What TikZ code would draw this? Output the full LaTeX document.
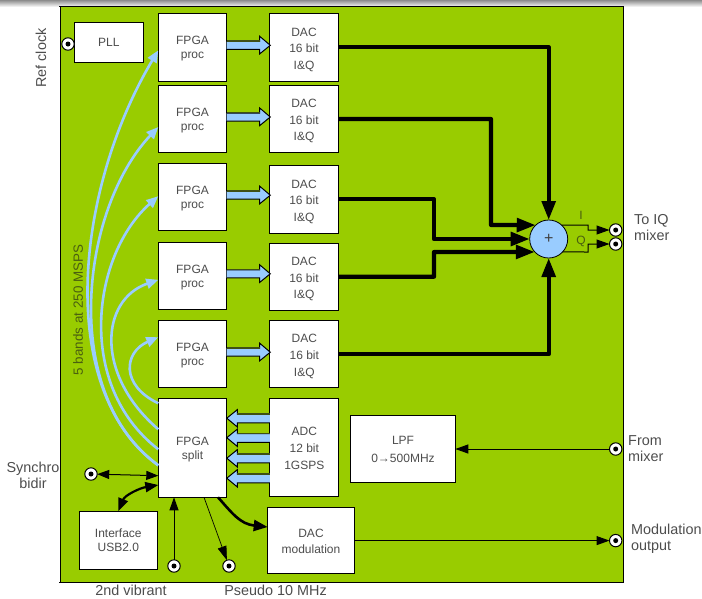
\documentclass[tikz,border=0pt]{standalone}
\usepackage{fontspec}
\setmainfont{Liberation Sans}
\usetikzlibrary{arrows.meta}
\definecolor{pcb}{HTML}{99CC00}
\definecolor{sky}{HTML}{99CCFF}
\definecolor{ink}{HTML}{4D4D4D}
\definecolor{inkg}{HTML}{4A5F10}
\definecolor{barshade}{HTML}{3F5015}
\tikzset{
  box/.style={draw=black,line width=1pt,fill=white,inner sep=0pt,outer sep=0pt,align=center,text=ink,font=\fontsize{12}{14}\selectfont},
  fpga/.style={box,minimum width=68.4pt,minimum height=67.4pt},
  dac/.style={box,minimum width=69.4pt,minimum height=67.4pt,font=\fontsize{12}{16.6}\selectfont},
  port/.style={circle,draw=black,line width=1pt,fill=white,minimum size=12.4pt,inner sep=0pt,outer sep=0pt,
    path picture={\fill[black] (path picture bounding box.center) circle (2.5pt);}},
  lab/.style={text=ink,font=\fontsize{14.4}{16}\selectfont,inner sep=0pt,align=left},
  bus/.style={draw=black,line width=4.2pt,line join=round,-{Triangle[length=19pt,width=13.5pt]}},
  thin/.style={draw=black,line width=1pt},
  thinarrow/.style={thin,-{Triangle[length=13pt,width=9pt]}},
  feed/.style={draw=sky,line width=2.6pt,-{Triangle[length=12pt,width=10pt]}},
  bar/.style={draw=black,line width=1pt,fill=sky,line join=miter},
  barshadow/.style={draw=barshade,line width=1.4pt},
}
\newcommand{\tx}[2][-1.5pt]{\raisebox{#1}[\height][\depth]{\begin{tabular}{@{}c@{}}#2\end{tabular}}}
\newcommand{\barright}[1]{\draw[bar] ([yshift=6pt]#1) -- ++(33,0) -- ++(0,-5) -- ++(10.6,9) -- ++(-10.6,8.6) -- ++(0,-4.6) -- ++(-33,0);
  \draw[barshadow] ([yshift=6.4pt]#1) -- ++(33,0);}
\newcommand{\barleft}[2]{\draw[bar] ([yshift=#2]#1) ++(0,-4) -- ++(-32.6,0) -- ++(0,-4.6) -- ++(-10.6,8.6) -- ++(10.6,8.8) -- ++(0,-4.2) -- ++(32.6,0);
  \draw[barshadow] ([yshift=#2]#1) ++(0,-4.4) -- ++(-32.6,0);}
\begin{document}
\begin{tikzpicture}[x=1pt,y=-1pt]
\useasboundingbox (0,0) rectangle (702,598);
\shade[top color=black!45,bottom color=white] (0,0) rectangle (702,7);
\fill[pcb] (60.5,6.5) rectangle (623.5,582);
\draw[black,line width=1pt] (59,6.5) -- (623.5,6.5) -- (623.5,582) -- (59,582);
\draw[black,line width=1pt] (60.5,6.5) -- (60.5,582);

% blocks
\node[box,minimum width=69pt,minimum height=40pt] (pll) at (108.8,42.3) {\tx[-1pt]{PLL}};
\node[fpga] (f1) at (192.5,47.3) {\tx{FPGA\\proc}};
\node[fpga] (f2) at (192.5,119) {\tx{FPGA\\proc}};
\node[fpga] (f3) at (192.5,197.2) {\tx{FPGA\\proc}};
\node[fpga] (f4) at (192.5,275.8) {\tx{FPGA\\proc}};
\node[fpga] (f5) at (192.5,354.2) {\tx{FPGA\\proc}};
\node[box,minimum width=68.4pt,minimum height=99pt] (fs) at (192.5,447.8) {\tx{FPGA\\split}};
\node[dac] (d1) at (304,47.3) {\tx[-2pt]{DAC\\16 bit\\I\&Q}};
\node[dac] (d2) at (304,119) {\tx[-2pt]{DAC\\16 bit\\I\&Q}};
\node[dac,minimum height=68pt] (d3) at (304,199.3) {\tx[-2pt]{DAC\\16 bit\\I\&Q}};
\node[dac,minimum height=66.7pt] (d4) at (304,276.7) {\tx[-2pt]{DAC\\16 bit\\I\&Q}};
\node[dac,minimum width=68.7pt] (d5) at (304.3,354.2) {\tx[-2pt]{DAC\\16 bit\\I\&Q}};
\node[dac,minimum width=68.7pt,minimum height=97.7pt] (adc) at (304.3,447.2) {\tx[-2pt]{ADC\\12 bit\\1GSPS}};
\node[box,minimum width=104.6pt,minimum height=66.6pt,font=\fontsize{12}{18}\selectfont] (lpf) at (403,449) {\tx[-1pt]{LPF\\0→500MHz}};
\node[box,minimum width=86.6pt,minimum height=66.7pt,font=\fontsize{12}{16}\selectfont] (dm) at (311,540.6) {\tx[-2pt]{DAC\\modulation}};
\node[box,minimum width=78pt,minimum height=58.7pt] (usb) at (118.3,540.6) {\tx[-1.5pt]{Interface\\USB2.0}};
\node[circle,draw=black,line width=0.8pt,fill=sky,minimum size=38pt,inner sep=0pt,outer sep=0pt,text=black!75,font=\fontsize{16}{18}\selectfont] (sum) at (548.7,239) {+};

% ports
\node[port] (pref) at (68,44) {};
\node[port] (psync) at (91,474) {};
\node[port] (pvib) at (174,566) {};
\node[port] (ppse) at (229,566) {};
\node[port] (pi) at (615.7,230) {};
\node[port] (pq) at (615.7,244) {};
\node[port] (pmix) at (615.7,449) {};
\node[port] (pmod) at (615.7,540.6) {};

% split to proc feeds
\draw[feed] ([yshift=-17.5pt]fs.west) .. controls (55,390) and (75,190) .. ([yshift=-3pt]f1.west);
\draw[feed] ([yshift=-17.5pt]fs.west) .. controls (60,395) and (80,210) .. ([yshift=-8pt]f2.west);
\draw[feed] ([yshift=-1.5pt]fs.west) .. controls (75,385) and (92,255) .. ([yshift=1pt]f3.west);
\draw[feed] ([yshift=18.5pt]fs.west) .. controls (95,375) and (100,300) .. ([yshift=-4pt]f4.west);
\draw[feed] ([yshift=44.5pt]fs.west) .. controls (120,385) and (124,352) .. ([yshift=17pt]f5.west);

% bars
\barright{f1.east}\barright{f2.east}\barright{f3.east}\barright{f4.east}\barright{f5.east}
\barleft{adc.west}{29pt}\barleft{adc.west}{9.5pt}\barleft{adc.west}{-11pt}\barleft{adc.west}{-31pt}

% summing buses
\draw[bus] (d1.east) -- (sum.north |- d1.east) -- (sum.north);
\draw[bus] (d2.east) -- (491,119) -- (491,225) -- (sum.133);
\draw[bus] (d3.east) -- (434,199.3) -- (434,239) -- (sum.west);
\draw[bus] (d4.east) -- (434,276.7) -- (434,252) -- (sum.-137);
\draw[bus] (d5.east) -- (sum.south |- d5.east) -- (sum.south);

% outputs
\draw[thinarrow] (sum.47) -- (588,225) -- (588,230) -- (pi);
\draw[thinarrow] (sum.-43) -- (588,252) -- (588,244) -- (pq);
\draw[thinarrow] (pmix) -- (lpf);
\draw[thinarrow] (dm) -- (pmod);
\draw[thin,{Triangle[length=12pt,width=9pt]}-{Triangle[length=12pt,width=9pt]}] (psync) -- (fs.west |- 0,475.7);
\draw[draw=black,line width=2.2pt,{Triangle[length=13pt,width=10pt]}-{Triangle[length=13pt,width=10pt]}] (usb.north) .. controls (125,495) and (140,488) .. (fs.west |- 0,485);
\draw[thinarrow] (pvib) -- (fs.south -| pvib);
\draw[black,line width=0.7pt,-{Triangle[length=14pt,width=9pt]}] (204,497.3) -- (ppse);
\draw[draw=black,line width=2.6pt,-{Triangle[length=14pt,width=11pt]}] (218,497.3) .. controls (232,513) and (240,524) .. (dm.west |- 0,527);

% labels
\node[lab,rotate=90] (tref) at (41,58) {Ref clock};
\node[lab,align=center] (tsync) at (33,475) {Synchro\\bidir};
\node[lab,anchor=west] (tiq) at (634,228) {To IQ\\mixer};
\node[lab,anchor=west] (tmix) at (628,449) {From\\mixer};
\node[lab,anchor=west] (tmod) at (631,538.5) {Modulation\\output};
\node[lab] (tvib) at (131,590.5) {2nd vibrant};
\node[lab] (tpse) at (275.5,590.5) {Pseudo 10 MHz};
\node[lab,rotate=90,text=inkg,font=\fontsize{13.4}{15}\selectfont] (tband) at (78,310) {5 bands at 250 MSPS};
\node[lab,text=inkg,font=\fontsize{12}{13}\selectfont] (ti) at (581,215) {I};
\node[lab,text=inkg,font=\fontsize{12}{13}\selectfont] (tq) at (581,241) {Q};
\end{tikzpicture}
\end{document}
